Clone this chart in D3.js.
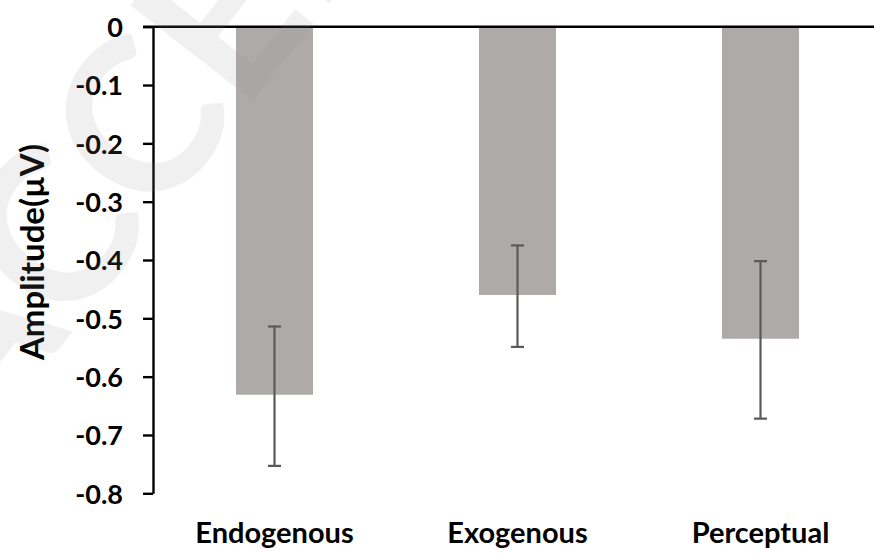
<!DOCTYPE html>
<html>
<head>
<meta charset="utf-8">
<script src="https://cdn.jsdelivr.net/npm/d3@7/dist/d3.min.js"></script>
<style>
  html, body { margin: 0; padding: 0; background: #fff; }
  svg { display: block; }
  text { font-family: Lato, "Open Sans", sans-serif; font-weight: bold; }
</style>
</head>
<body>
<svg id="chart" width="874" height="554"></svg>
<script>
const categories = ["Endogenous", "Exogenous", "Perceptual"];
const means = [-0.631, -0.460, -0.535];
const errLow = [-0.753, -0.549, -0.672];
const errHigh = [-0.514, -0.375, -0.402];
const yTicks = [0, -0.1, -0.2, -0.3, -0.4, -0.5, -0.6, -0.7, -0.8];
const yTitle = "Amplitude(µV)";
const watermark = "ACCEPTED";

const svg = d3.select("#chart");
const W = 874, H = 554;

const y = d3.scaleLinear().domain([-0.8, 0]).range([493.3, 26.7]);
const x = d3.scaleBand().domain(categories).range([153, 882])
  .paddingInner(0.683).paddingOuter(0.3415);

const data = categories.map((c, i) => ({c, m: means[i], lo: errLow[i], hi: errHigh[i]}));

// bars
svg.append("g").selectAll("rect").data(data).join("rect")
  .attr("x", d => x(d.c))
  .attr("width", x.bandwidth())
  .attr("y", y(0))
  .attr("height", d => y(d.m) - y(0))
  .attr("fill", "#AEAAAA");

// error bars
const eg = svg.append("g").attr("stroke", "#595959").attr("stroke-width", 2.2);
data.forEach(d => {
  const cx = x(d.c) + x.bandwidth() / 2;
  eg.append("line").attr("x1", cx).attr("x2", cx).attr("y1", y(d.hi)).attr("y2", y(d.lo));
  eg.append("line").attr("x1", cx - 6.5).attr("x2", cx + 6.5).attr("y1", y(d.hi)).attr("y2", y(d.hi));
  eg.append("line").attr("x1", cx - 6.5).attr("x2", cx + 6.5).attr("y1", y(d.lo)).attr("y2", y(d.lo));
});

// y axis
const yAxis = d3.axisLeft(y).tickValues(yTicks)
  .tickFormat(d => d === 0 ? "0" : d3.format(".1f")(d).replace("−", "-"))
  .tickSizeInner(10).tickSizeOuter(0).tickPadding(20);
const ga = svg.append("g").attr("transform", "translate(153,0)").call(yAxis);
ga.select(".domain").attr("stroke", "#000").attr("stroke-width", 2.4);
ga.selectAll(".tick line").attr("stroke", "#000").attr("stroke-width", 2.4);
ga.selectAll(".tick text").attr("font-size", 27).attr("fill", "#000")
  .attr("font-family", "Lato, sans-serif").attr("font-weight", "bold")
  .attr("dy", "0.36em");

// zero line
svg.append("line").attr("x1", 143).attr("x2", W).attr("y1", y(0)).attr("y2", y(0))
  .attr("stroke", "#000").attr("stroke-width", 2.4);

// category labels
svg.append("g").selectAll("text").data(categories).join("text")
  .attr("x", d => x(d) + x.bandwidth() / 2)
  .attr("y", 543)
  .attr("text-anchor", "middle")
  .attr("font-size", 29)
  .attr("fill", "#000")
  .text(d => d);

// y title
svg.append("text")
  .attr("transform", "translate(44,252) rotate(-90)")
  .attr("text-anchor", "middle")
  .attr("font-size", 33)
  .attr("fill", "#000")
  .text(yTitle);

// watermark
svg.append("text")
  .attr("transform", "translate(-20,450) rotate(-52)")
  .attr("font-family", "'Liberation Serif', serif")
  .attr("font-weight", "normal")
  .attr("font-size", 215)
  .attr("fill", "#888")
  .attr("fill-opacity", 0.13)
  .text(watermark);
</script>
</body>
</html>
